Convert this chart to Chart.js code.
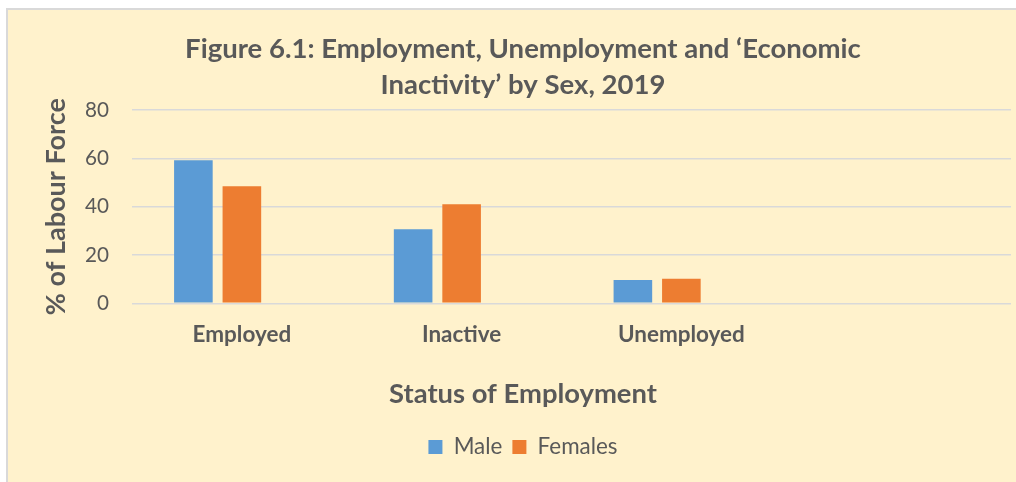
<!DOCTYPE html>
<html>
<head>
<meta charset="utf-8">
<script src="https://cdn.jsdelivr.net/npm/chart.js@4.4.1/dist/chart.umd.min.js"></script>
<style>
  html, body { margin: 0; padding: 0; background: #ffffff; }
  #frame {
    position: absolute; left: 6px; top: 8px;
    width: 1008px; height: 472px;
    border-left: 2px solid #D9D9D9; border-top: 2px solid #D9D9D9;
    background: #FFF2CC;
  }
  #c { display: block; }
</style>
</head>
<body>
<div id="frame"><canvas id="c" width="1008" height="472"></canvas></div>
<script>
// ---- data ----
const categories = ['Employed', 'Inactive', 'Unemployed', ''];
const maleValues = [59.2, 30.6, 9.6, null];
const femaleValues = [48.4, 41.0, 10.2, null];
const emptySeries = [null, null, null, null];
const seriesNames = ['Male', 'Females', ''];
const yTicks = [0, 20, 40, 60, 80];
const titleLines = ['Figure 6.1: Employment, Unemployment and \u2018Economic', 'Inactivity\u2019 by Sex, 2019'];
const yAxisTitle = '% of Labour Force';
const xAxisTitle = 'Status of Employment';

// ---- styling helpers ----
const FAMILY = 'Lato, "Open Sans", "DejaVu Sans", sans-serif';
const TEXT = '#595959';
function fitSize(text, weight, target) {
  const ctx = document.createElement('canvas').getContext('2d');
  ctx.font = weight + ' 100px ' + FAMILY;
  return 100 * target / ctx.measureText(text).width;
}
const titleSize = fitSize(titleLines[0], 'bold', 676);
const xTickSize = fitSize('Unemployed', 'bold', 127);
const xTitleSize = fitSize(xAxisTitle, 'bold', 268);
const yTitleSize = fitSize(yAxisTitle, 'bold', 217);
const yTickSize = fitSize('80', 'normal', 24);
const legendSize = fitSize('Females', 'normal', 80);

const PAD_L = 27, PAD_R = 5;
const AREA_TOP = 100, AREA_BOTTOM = 293.3, X_AXIS_H = 60;
const titleLH = 36.5;
const xTitleLH = xTitleSize * 1.2;
const legendPad = 10;
const legendCenter = 437, xTitleCenter = 384, xTickCenter = 325;

const titlePadTop = 39 - titleLH / 2;
const titlePadBottom = AREA_TOP - titlePadTop - 2 * titleLH;
const padBottom = 472 - (legendCenter + legendSize / 2 + legendPad);
const legendTop = legendCenter - legendPad - legendSize / 2;
const subPadTop = xTitleCenter - xTitleLH / 2 - (AREA_BOTTOM + X_AXIS_H);
const subPadBottom = legendTop - (xTitleCenter + xTitleLH / 2);

new Chart(document.getElementById('c'), {
  type: 'bar',
  data: {
    labels: categories,
    datasets: [
      { label: seriesNames[0], data: maleValues, backgroundColor: '#5B9BD5', borderWidth: 0 },
      { label: seriesNames[1], data: femaleValues, backgroundColor: '#ED7D31', borderWidth: 0 },
      { label: seriesNames[2], data: emptySeries, backgroundColor: '#A5A5A5', borderWidth: 0 }
    ]
  },
  options: {
    responsive: false,
    animation: false,
    datasets: { bar: { categoryPercentage: 0.662, barPercentage: 0.796 } },
    layout: { padding: { left: PAD_L, right: PAD_R, top: 0, bottom: padBottom } },
    scales: {
      x: {
        grid: { display: false, drawTicks: false },
        border: { display: false },
        ticks: {
          color: TEXT, maxRotation: 0, autoSkip: false,
          font: { family: FAMILY, size: xTickSize, weight: 'bold', lineHeight: 1.2 },
          padding: (xTickCenter - AREA_BOTTOM) - xTickSize * 0.6
        },
        afterFit: s => { s.height = X_AXIS_H; }
      },
      y: {
        min: 0, max: 80,
        afterBuildTicks: s => { s.ticks = yTicks.map(v => ({ value: v })); },
        grid: { color: '#D9D9D9', lineWidth: 1.5, drawTicks: false },
        border: { display: false },
        ticks: {
          color: TEXT, padding: 23,
          font: { family: FAMILY, size: yTickSize, weight: 'normal' }
        },
        title: {
          display: true, text: yAxisTitle, color: TEXT,
          font: { family: FAMILY, size: yTitleSize, weight: 'bold', lineHeight: 1.2 },
          padding: { top: 48.5 - PAD_L - yTitleSize * 0.6, bottom: 0 }
        },
        afterFit: s => { s.width = 124 - PAD_L; }
      }
    },
    plugins: {
      title: {
        display: true, text: titleLines, color: TEXT,
        font: { family: FAMILY, size: titleSize, weight: 'bold', lineHeight: titleLH / titleSize },
        padding: { top: titlePadTop, bottom: titlePadBottom }
      },
      subtitle: {
        display: true, text: xAxisTitle, position: 'bottom', weight: 500, color: TEXT,
        font: { family: FAMILY, size: xTitleSize, weight: 'bold', lineHeight: 1.2 },
        padding: { top: subPadTop, bottom: subPadBottom }
      },
      legend: {
        position: 'bottom', weight: 1000,
        labels: {
          color: TEXT, boxWidth: 14, boxHeight: 14, padding: legendPad,
          font: { family: FAMILY, size: legendSize, weight: 'normal' },
          filter: item => item.text !== ''
        }
      },
      tooltip: { enabled: false }
    }
  }
});
</script>
</body>
</html>
